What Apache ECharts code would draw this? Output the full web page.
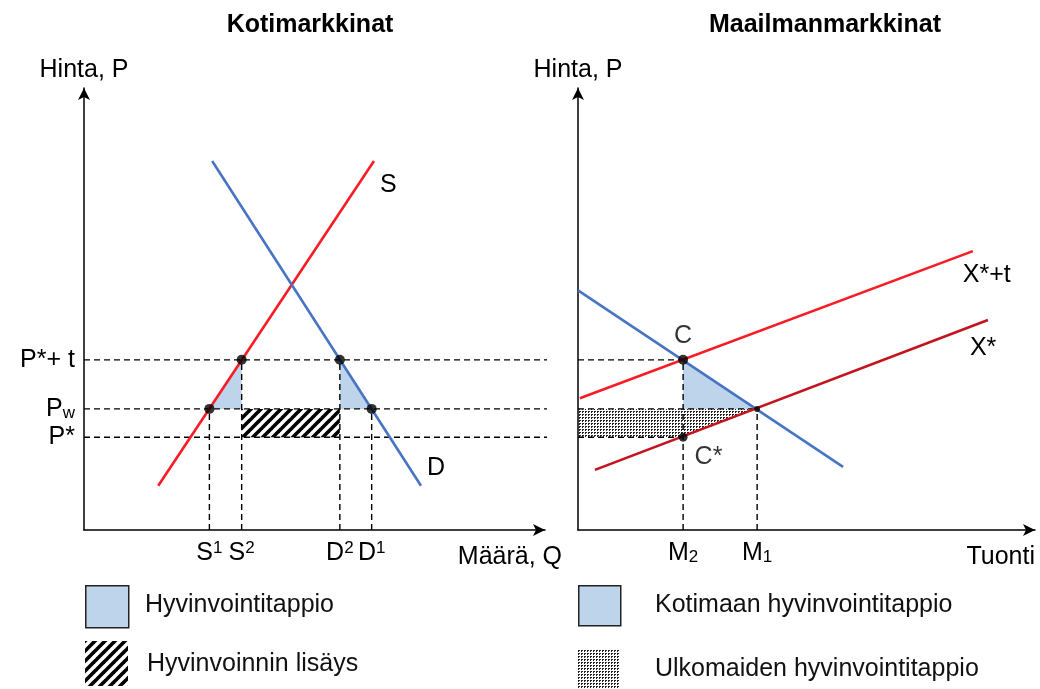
<!DOCTYPE html>
<html>
<head>
<meta charset="utf-8">
<script src="https://cdn.jsdelivr.net/npm/echarts@6/dist/echarts.min.js"></script>
<style>
  html, body { margin: 0; padding: 0; background: #fff; }
  #chart { width: 1040px; height: 689px; }
</style>
</head>
<body>
<div id="chart"></div>
<script>
// --- Kotimarkkinat (vasen) ---
const supplyS = [[16.1, 10.0], [62.9, 83.5]];
const demandD = [[27.8, 83.5], [73.1, 10.0]];
const priceLevels = [21.0, 27.4, 38.5];            // P*, Pw, P*+t
const priceLabels = ['P*', 'P{sub|w}', 'P*+ t'];
const qTicks = [27.2, 34.2, 55.5, 62.4];           // S1, S2, D2, D1
const qLabels = ['S{sup|1}', 'S{sup|2}', 'D{sup|2}', 'D{sup|1}'];
const homeDots = [[27.2, 27.4], [34.2, 38.5], [55.5, 38.5], [62.4, 27.4]];

// --- Maailmanmarkkinat (oikea) ---
const importDemand = [[0, 54.2], [58.0, 14.3]];
const exportTariff = [[0.4, 29.8], [86.4, 63.1]];  // X*+t
const exportSupply = [[3.7, 13.6], [89.7, 47.5]];  // X*
const mTicks = [23.0, 39.2];
const mLabels = ['M{sub|2}', 'M{sub|1}'];
const pointC = [23.0, 38.5];
const pointM1 = [39.2, 27.4];
const pointCs = [23.0, 21.0];

const FONT = '"Liberation Sans", Arial, Helvetica, sans-serif';
const FS = 25;
const RED = '#f81c24', BLUE = '#4874c4', DARKRED = '#c3141e', FILL = '#bed4ea';

// patterns
function hatch() {
  const c = document.createElement('canvas');
  c.width = 10; c.height = 10;
  const g = c.getContext('2d');
  g.strokeStyle = '#000'; g.lineWidth = 3.6;
  [[-10, 10, 10, -10], [0, 10, 10, 0], [0, 20, 20, 0]].forEach(function (l) {
    g.beginPath(); g.moveTo(l[0], l[1]); g.lineTo(l[2], l[3]); g.stroke();
  });
  return { image: c, repeat: 'repeat' };
}
function dots() {
  const c = document.createElement('canvas');
  c.width = 3; c.height = 3;
  const g = c.getContext('2d');
  g.fillStyle = '#fff'; g.fillRect(0, 0, 3, 3);
  g.fillStyle = '#222'; g.fillRect(0, 0, 2, 1); g.fillRect(0, 1, 1, 1);
  return { image: c, repeat: 'repeat' };
}
const hatchFill = hatch();
const dotFill = dots();

function line(grid, data, color, width, extra) {
  return Object.assign({
    type: 'line', xAxisIndex: grid, yAxisIndex: grid, data: data,
    showSymbol: false, symbol: 'none', silent: true, animation: false,
    lineStyle: { color: color, width: width }
  }, extra || {});
}
function dashed(grid, data) {
  return line(grid, data, '#000', 1.4, { clip: false, z: 1,
    lineStyle: { color: '#000', width: 1.4, type: [6, 4] } });
}
function poly(grid, pts, fill) {
  return {
    type: 'custom', xAxisIndex: grid, yAxisIndex: grid, data: [0], silent: true, z: 0,
    animation: false,
    renderItem: function (params, api) {
      return { type: 'polygon', shape: { points: pts.map(function (p) { return api.coord(p); }) },
        style: { fill: fill, stroke: null } };
    }
  };
}
function endLab(text, offset) {
  return { show: true, formatter: text, offset: offset, color: '#000', fontSize: FS, fontFamily: FONT };
}

const richTxt = {
  sup: { fontSize: 17, verticalAlign: 'top', fontFamily: FONT, color: '#000', padding: [0, 0, 9, 0] },
  sub: { fontSize: 17, verticalAlign: 'bottom', fontFamily: FONT, color: '#000', padding: [9, 0, 0, 0] }
};

const series = [];
// shaded areas
series.push(poly(0, [homeDots[0], homeDots[1], [homeDots[1][0], homeDots[0][1]]], FILL));
series.push(poly(0, [homeDots[2], [homeDots[2][0], homeDots[3][1]], homeDots[3]], FILL));
series.push(poly(0, [[qTicks[1], priceLevels[1]], [qTicks[2], priceLevels[1]],
  [qTicks[2], priceLevels[0]], [qTicks[1], priceLevels[0]]], hatchFill));
series.push(poly(1, [pointC, [pointC[0], pointM1[1]], pointM1], FILL));
series.push(poly(1, [[0, pointM1[1]], pointM1, pointCs, [0, pointCs[1]]], dotFill));

// dashed guides
priceLevels.forEach(function (p) { series.push(dashed(0, [[0, p], [107.2, p]])); });
series.push(dashed(0, [[qTicks[0], 0], [qTicks[0], priceLevels[1]]]));
series.push(dashed(0, [[qTicks[1], 0], [qTicks[1], priceLevels[2]]]));
series.push(dashed(0, [[qTicks[2], 0], [qTicks[2], priceLevels[2]]]));
series.push(dashed(0, [[qTicks[3], 0], [qTicks[3], priceLevels[1]]]));
series.push(dashed(1, [[0, pointC[1]], pointC]));
series.push(dashed(1, [[0, pointM1[1]], pointM1]));
series.push(dashed(1, [[0, pointCs[1]], pointCs]));
series.push(dashed(1, [[mTicks[0], 0], pointC]));
series.push(dashed(1, [[mTicks[1], 0], pointM1]));

// curves
series.push(line(0, supplyS, RED, 2.6, { z: 3, endLabel: endLab('S', [-2, 24]) }));
series.push(line(0, demandD, BLUE, 2.6, { z: 3, endLabel: endLab('D', [-2, -18]) }));
series.push(line(1, importDemand, BLUE, 2.6, { z: 3 }));
series.push(line(1, exportTariff, RED, 2.6, { z: 3, endLabel: endLab('X*+t', [-18, 24]) }));
series.push(line(1, exportSupply, DARKRED, 2.6, { z: 3, endLabel: endLab('X*', [-26, 28]) }));

// points
series.push({ type: 'scatter', xAxisIndex: 0, yAxisIndex: 0, data: homeDots, symbolSize: 10,
  itemStyle: { color: '#000' }, z: 5, silent: true, animation: false });
series.push({ type: 'scatter', xAxisIndex: 1, yAxisIndex: 1, z: 5, silent: true, animation: false,
  itemStyle: { color: '#000' },
  label: { show: true, color: '#000', fontSize: FS, fontFamily: FONT, formatter: function (p) { return p.name; } },
  data: [
    { value: pointC, name: 'C', symbolSize: 10, label: { position: 'top', distance: 6 } },
    { value: pointCs, name: 'C*', symbolSize: 9, label: { position: 'right', offset: [2, 20] } },
    { value: pointM1, name: '', symbolSize: 6 }
  ] });

function xAx(grid, ticks, labels, name, gap) {
  return {
    type: 'value', gridIndex: grid, min: 0, max: 100,
    splitLine: { show: false }, axisTick: { show: false },
    axisLine: { show: true, symbol: ['none', 'arrow'], symbolSize: [9, 12],
      lineStyle: { color: '#000', width: 1.5 } },
    axisLabel: { customValues: ticks, margin: 10, color: '#000', fontSize: FS, fontFamily: FONT, rich: richTxt,
      formatter: function (v) { return labels[ticks.indexOf(v)] || ''; } },
    name: name, nameLocation: 'end', nameGap: gap,
    nameTextStyle: { color: '#000', fontSize: FS, fontFamily: FONT, align: 'right', verticalAlign: 'top', padding: [15, 0, 0, 0] }
  };
}
function yAx(grid, ticks, labels) {
  return {
    type: 'value', gridIndex: grid, min: 0, max: 100,
    splitLine: { show: false }, axisTick: { show: false },
    axisLine: { show: true, symbol: ['none', 'arrow'], symbolSize: [9, 12],
      lineStyle: { color: '#000', width: 1.5 } },
    axisLabel: ticks ? { customValues: ticks, margin: 9, color: '#000', fontSize: FS, fontFamily: FONT, rich: richTxt,
      formatter: function (v) { return labels[ticks.indexOf(v)] || ''; } } : { show: false },
    name: 'Hinta, P', nameLocation: 'end', nameGap: 5,
    nameTextStyle: { color: '#000', fontSize: FS, fontFamily: FONT, align: 'center' }
  };
}

const legendTxt = function (x, y, t) {
  return { type: 'text', left: x, top: y, silent: true,
    style: { text: t, fill: '#111', fontSize: FS, fontFamily: FONT } };
};

const chart = echarts.init(document.getElementById('chart'), null, { renderer: 'canvas' });
chart.setOption({
  animation: false,
  backgroundColor: '#fff',
  title: [
    { text: 'Kotimarkkinat', left: 305, top: 8, textAlign: 'center',
      textStyle: { fontSize: 25, fontWeight: 'bold', fontFamily: FONT, color: '#000' } },
    { text: 'Maailmanmarkkinat', left: 820, top: 8, textAlign: 'center',
      textStyle: { fontSize: 25, fontWeight: 'bold', fontFamily: FONT, color: '#000' } }
  ],
  grid: [
    { left: 84, top: 88, width: 461, height: 442 },
    { left: 578, top: 88, width: 457, height: 442 }
  ],
  xAxis: [
    xAx(0, qTicks, qLabels, 'Määrä, Q', 17),
    xAx(1, mTicks, mLabels, 'Tuonti', 0)
  ],
  yAxis: [yAx(0, priceLevels, priceLabels), yAx(1, null, null)],
  series: series,
  graphic: [
    { type: 'rect', left: 85, top: 585, silent: true, shape: { width: 43, height: 42 },
      style: { fill: FILL, stroke: '#222', lineWidth: 1.5 } },
    { type: 'rect', left: 85, top: 641, silent: true, shape: { width: 43, height: 45 },
      style: { fill: hatchFill } },
    { type: 'rect', left: 578, top: 585, silent: true, shape: { width: 42, height: 40 },
      style: { fill: FILL, stroke: '#222', lineWidth: 1.5 } },
    { type: 'rect', left: 578, top: 650, silent: true, shape: { width: 42, height: 39 },
      style: { fill: dotFill } },
    legendTxt(145, 593, 'Hyvinvointitappio'),
    legendTxt(147, 652, 'Hyvinvoinnin lisäys'),
    legendTxt(655, 593, 'Kotimaan hyvinvointitappio'),
    legendTxt(655, 657, 'Ulkomaiden hyvinvointitappio')
  ]
});
</script>
</body>
</html>
